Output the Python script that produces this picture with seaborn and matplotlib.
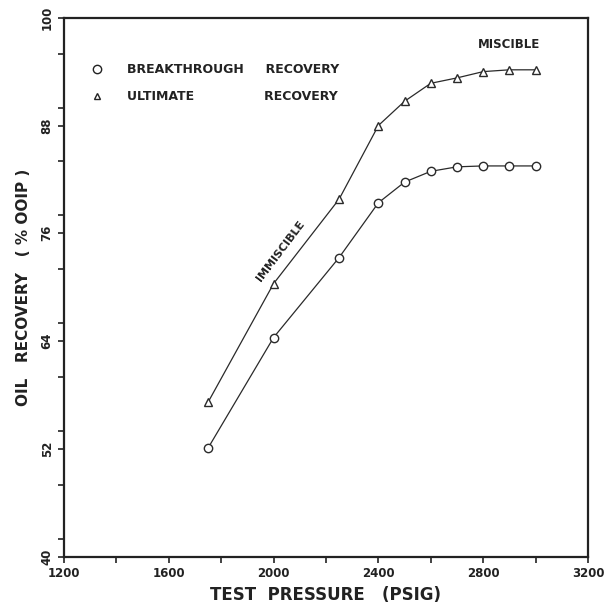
import matplotlib
matplotlib.use("Agg")
import matplotlib.pyplot as plt
import seaborn as sns
import pandas as pd
from matplotlib.lines import Line2D
from matplotlib.ticker import MultipleLocator

pressure = [1750, 2000, 2250, 2400, 2500, 2600, 2700, 2800, 2900, 3000]
breakthrough = [52.1, 64.4, 73.3, 79.4, 81.7, 82.9, 83.4, 83.5, 83.5, 83.5]
ultimate = [57.2, 70.4, 79.8, 88.0, 90.7, 92.7, 93.3, 94.0, 94.2, 94.2]

x_ticks = [1200, 1600, 2000, 2400, 2800, 3200]
y_ticks = [40, 52, 64, 76, 88, 100]

sns.set_style("ticks")
plt.rcParams["font.family"] = ["DejaVu Sans"]

df = pd.DataFrame({
    "pressure": pressure * 2,
    "recovery": breakthrough + ultimate,
    "series": ["BREAKTHROUGH RECOVERY"] * len(pressure) + ["ULTIMATE RECOVERY"] * len(pressure),
})

fig = plt.figure(figsize=(6.06, 6.15), dpi=100)
ax = fig.add_axes([0.1056, 0.0948, 0.8647, 0.8764])

sns.lineplot(data=df, x="pressure", y="recovery", style="series",
             markers={"BREAKTHROUGH RECOVERY": "o", "ULTIMATE RECOVERY": "^"},
             dashes=False, color="#2a2a2a", linewidth=0.9,
             markersize=6, markerfacecolor="white", markeredgecolor="#2a2a2a",
             markeredgewidth=1.0, legend=False, ax=ax)

ax.set_xlim(1200, 3200)
ax.set_ylim(40, 100)
ax.set_xticks(x_ticks)
ax.set_yticks(y_ticks)
ax.xaxis.set_minor_locator(MultipleLocator(200))
ax.yaxis.set_minor_locator(MultipleLocator(6))
ax.tick_params(axis="both", which="both", direction="out", length=4, width=1.2, color="#222222")
ax.set_xticklabels([str(v) for v in x_ticks], fontsize=8.5, fontweight="bold", color="#222222")
ax.set_yticklabels([str(v) for v in y_ticks], fontsize=8.5, fontweight="bold", color="#222222",
                   rotation=90, va="center")
for s in ax.spines.values():
    s.set_visible(True)
    s.set_linewidth(1.6)
    s.set_color("#222222")

ax.set_xlabel("TEST  PRESSURE   (PSIG)", fontsize=12, fontweight="bold", color="#222222", labelpad=4)
ax.set_ylabel("OIL   RECOVERY   ( % OOIP )", fontsize=11, fontweight="bold", color="#222222", labelpad=7)

handles = [
    Line2D([], [], linestyle="none", marker="o", markersize=6, markerfacecolor="white",
           markeredgecolor="#222222", markeredgewidth=1.0),
    Line2D([], [], linestyle="none", marker="^", markersize=5, markerfacecolor="white",
           markeredgecolor="#222222", markeredgewidth=1.0),
]
leg = ax.legend(handles, ["BREAKTHROUGH     RECOVERY", "ULTIMATE                RECOVERY"],
                loc="upper left", bbox_to_anchor=(0.03, 0.936), frameon=False,
                handlelength=1.0, handletextpad=1.9, labelspacing=1.1,
                prop={"size": 9, "weight": "bold"})
for t in leg.get_texts():
    t.set_color("#222222")

ax.text(2900, 97.0, "MISCIBLE", fontsize=8.5, fontweight="bold", color="#222222",
        ha="center", va="center")
ax.text(2025, 74.0, "IMMISCIBLE", fontsize=8, fontweight="bold", color="#222222",
        ha="center", va="center", rotation=53, rotation_mode="anchor")

fig.savefig("out.png", dpi=100, facecolor="white")
